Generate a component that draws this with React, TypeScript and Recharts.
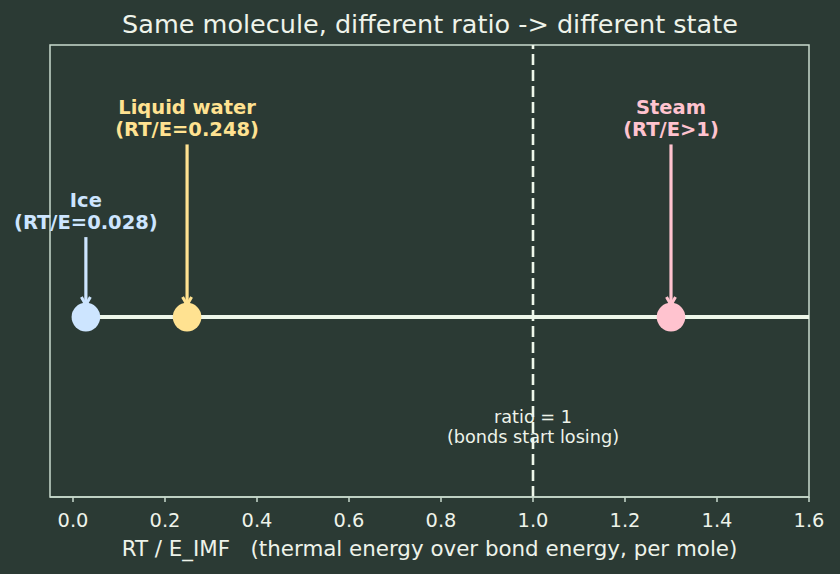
import React from 'react';
import {
  ComposedChart, XAxis, YAxis, Line, Scatter, Cell, ReferenceLine, ReferenceArea,
} from 'recharts';

// ---- data ----
const stateNames = ['Ice', 'Liquid water', 'Steam'];
const stateSubLabels = ['(RT/E=0.028)', '(RT/E=0.248)', '(RT/E>1)'];
const stateRatios = [0.028, 0.248, 1.3];
const arrowStartLevels = [0.575, 0.78, 0.78];
const arrowEndLevel = 0.425;
const baselineLevel = 0.398;
const baselineRange = [0, 1.6];
const thresholdRatio = 1.0;
const thresholdLabel = ['ratio = 1', '(bonds start losing)'];
const thresholdLabelLevel = 0.12;
const xTicks = [0, 0.2, 0.4, 0.6, 0.8, 1.0, 1.2, 1.4, 1.6];
const xDomain = [-0.05, 1.6];
const yDomain = [0, 1];
const title = 'Same molecule, different ratio -> different state';
const xLabel = 'RT / E_IMF   (thermal energy over bond energy, per mole)';

// ---- styles ----
const BG = '#2b3a34';
const FRAME = '#c9dacd';
const TEXT = '#eef3ea';
const LINE = '#eef7ea';
const COLORS = ['#cde5ff', '#ffe291', '#ffc3cf'];
const FONT = '"DejaVu Sans", sans-serif';

const baselineData = baselineRange.map((x) => ({ x, y: baselineLevel }));
const pointData = stateRatios.map((x, i) => ({ x, y: baselineLevel, name: stateNames[i] }));
const labelData = stateRatios.map((x, i) => ({
  x, y: arrowStartLevels[i], name: stateNames[i], sub: stateSubLabels[i], idx: i,
}));
const arrowData = stateRatios.map((x, i) => [
  { x, y: arrowStartLevels[i] },
  { x, y: arrowEndLevel },
]);
const thresholdData = [{ x: thresholdRatio, y: thresholdLabelLevel }];

const StateLabel = (props: any) => {
  const { cx, cy, payload } = props;
  const c = COLORS[payload.idx];
  return (
    <text x={cx} textAnchor="middle" fill={c} fontFamily={FONT} fontWeight="bold" fontSize={19.5}>
      <tspan x={cx} y={cy - 30}>{payload.name}</tspan>
      <tspan x={cx} y={cy - 8}>{payload.sub}</tspan>
    </text>
  );
};

const ThresholdLabel = (props: any) => {
  const { cx, cy } = props;
  return (
    <text x={cx} textAnchor="middle" fill={TEXT} fontFamily={FONT} fontSize={17.7}>
      <tspan x={cx} y={cy - 20}>{thresholdLabel[0]}</tspan>
      <tspan x={cx} y={cy}>{thresholdLabel[1]}</tspan>
    </text>
  );
};

const makeArrowDot = (color: string) => (props: any) => {
  const { cx, cy, index } = props;
  if (index !== 1) return <g key={`a-${index}`} />;
  return (
    <path
      key={`a-${index}`}
      d={`M${cx - 4.5},${cy - 8} L${cx},${cy} L${cx + 4.5},${cy - 8}`}
      stroke={color}
      strokeWidth={3}
      fill="none"
    />
  );
};

const Circle = (props: any) => {
  const { cx, cy, fill } = props;
  return <circle cx={cx} cy={cy} r={14.3} fill={fill} />;
};

const AxisLabel = (props: any) => {
  const vb = props.viewBox;
  return (
    <text
      x={vb.x + vb.width / 2}
      y={vb.y + 59}
      textAnchor="middle"
      fill={TEXT}
      fontFamily={FONT}
      fontSize={21.4}
      style={{ whiteSpace: 'pre' }}
      xmlSpace="preserve"
    >
      {xLabel}
    </text>
  );
};

export default function App() {
  return (
    <div style={{ position: 'absolute', left: 0, top: 0, width: 840, height: 574, background: BG }}>
      <ComposedChart
        width={840}
        height={574}
        margin={{ top: 45, right: 31, left: 50, bottom: 0 }}
      >
        <XAxis
          type="number"
          dataKey="x"
          domain={xDomain}
          ticks={xTicks}
          height={77}
          tickFormatter={(v: number) => v.toFixed(1)}
          axisLine={{ stroke: FRAME, strokeWidth: 1.5 }}
          tickLine={{ stroke: FRAME, strokeWidth: 1.5 }}
          tickSize={5}
          tickMargin={11}
          tick={{ fill: TEXT, fontSize: 19.4, fontFamily: FONT }}
          label={<AxisLabel />}
        />
        <YAxis type="number" dataKey="y" domain={yDomain} hide />
        <ReferenceArea
          x1={xDomain[0]}
          x2={xDomain[1]}
          y1={yDomain[0]}
          y2={yDomain[1]}
          fill="none"
          fillOpacity={0}
          stroke={FRAME}
          strokeWidth={1.5}
        />
        <Line
          data={baselineData}
          dataKey="y"
          stroke={LINE}
          strokeWidth={4}
          dot={false}
          activeDot={false}
          isAnimationActive={false}
        />
        <ReferenceLine
          x={thresholdRatio}
          stroke={LINE}
          strokeWidth={2.6}
          strokeDasharray="11 5"
        />
        {arrowData.map((d, i) => (
          <Line
            key={`arrow-${i}`}
            data={d}
            dataKey="y"
            stroke={COLORS[i]}
            strokeWidth={3.2}
            dot={makeArrowDot(COLORS[i])}
            activeDot={false}
            isAnimationActive={false}
          />
        ))}
        <Scatter data={pointData} dataKey="y" shape={<Circle />} isAnimationActive={false}>
          {pointData.map((_, i) => (
            <Cell key={`c-${i}`} fill={COLORS[i]} />
          ))}
        </Scatter>
        <Scatter data={labelData} dataKey="y" shape={<StateLabel />} isAnimationActive={false} />
        <Scatter data={thresholdData} dataKey="y" shape={<ThresholdLabel />} isAnimationActive={false} />
      </ComposedChart>
      <svg
        width={840}
        height={574}
        style={{ position: 'absolute', left: 0, top: 0, pointerEvents: 'none' }}
      >
        <text x={430} y={33} textAnchor="middle" fill={TEXT} fontFamily={FONT} fontSize={25.5}>
          {title}
        </text>
      </svg>
    </div>
  );
}
